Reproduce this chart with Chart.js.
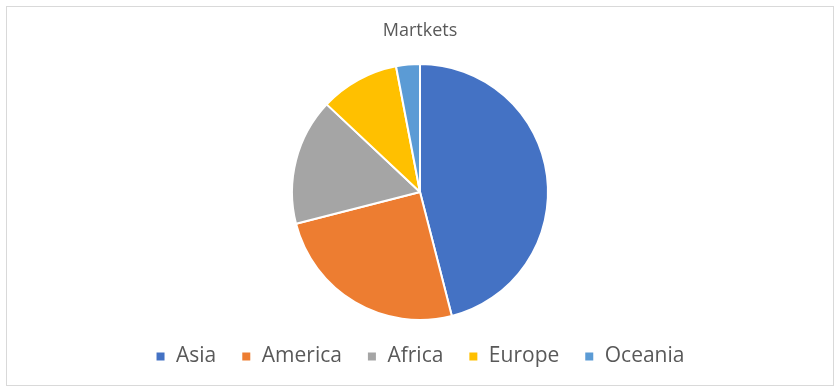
<!DOCTYPE html>
<html>
<head>
<meta charset="utf-8">
<script src="https://cdn.jsdelivr.net/npm/chart.js@4"></script>
<style>
  html, body { margin: 0; padding: 0; background: #fff; }
  #wrap { position: relative; width: 840px; height: 389px; }
  #frame { position: absolute; left: 6px; top: 6px; width: 826px; height: 378px; border: 1px solid #d9d9d9; pointer-events: none; }
</style>
</head>
<body>
<div id="wrap">
  <canvas id="myChart" width="840" height="389"></canvas>
  <div id="frame"></div>
</div>
<script>
const categories = ['Asia', 'America', 'Africa', 'Europe', 'Oceania'];
const shares = [46, 25, 16, 10, 3];
const sliceColors = ['#4472C4', '#ED7D31', '#A5A5A5', '#FFC000', '#5B9BD5'];

const data = {
    labels: categories,
    datasets: [{
        label: 'Martkets',
        data: shares,
        backgroundColor: sliceColors,
        borderColor: '#ffffff',
        borderWidth: 2
    }]
};

// Pie chart with title on top and legend below
const config = {
    type: 'pie',
    data: data,
    options: {
        responsive: false,
        animation: false,
        layout: {
            padding: { top: 10, bottom: 12 }
        },
        plugins: {
            legend: {
                position: 'bottom',
                labels: {
                    boxWidth: 10,
                    boxHeight: 10,
                    padding: 25,
                    color: '#595959',
                    font: { family: 'Open Sans', size: 21 }
                }
            },
            title: {
                display: true,
                text: 'Martkets',
                color: '#595959',
                padding: { top: 10.2, bottom: 21.2 },
                font: { family: 'Open Sans', size: 18, weight: 'normal' }
            },
            tooltip: { enabled: false }
        }
    }
};

window.onload = function() {
    const ctx = document.getElementById('myChart').getContext('2d');
    const myChart = new Chart(ctx, config);
};
</script>
</body>
</html>
